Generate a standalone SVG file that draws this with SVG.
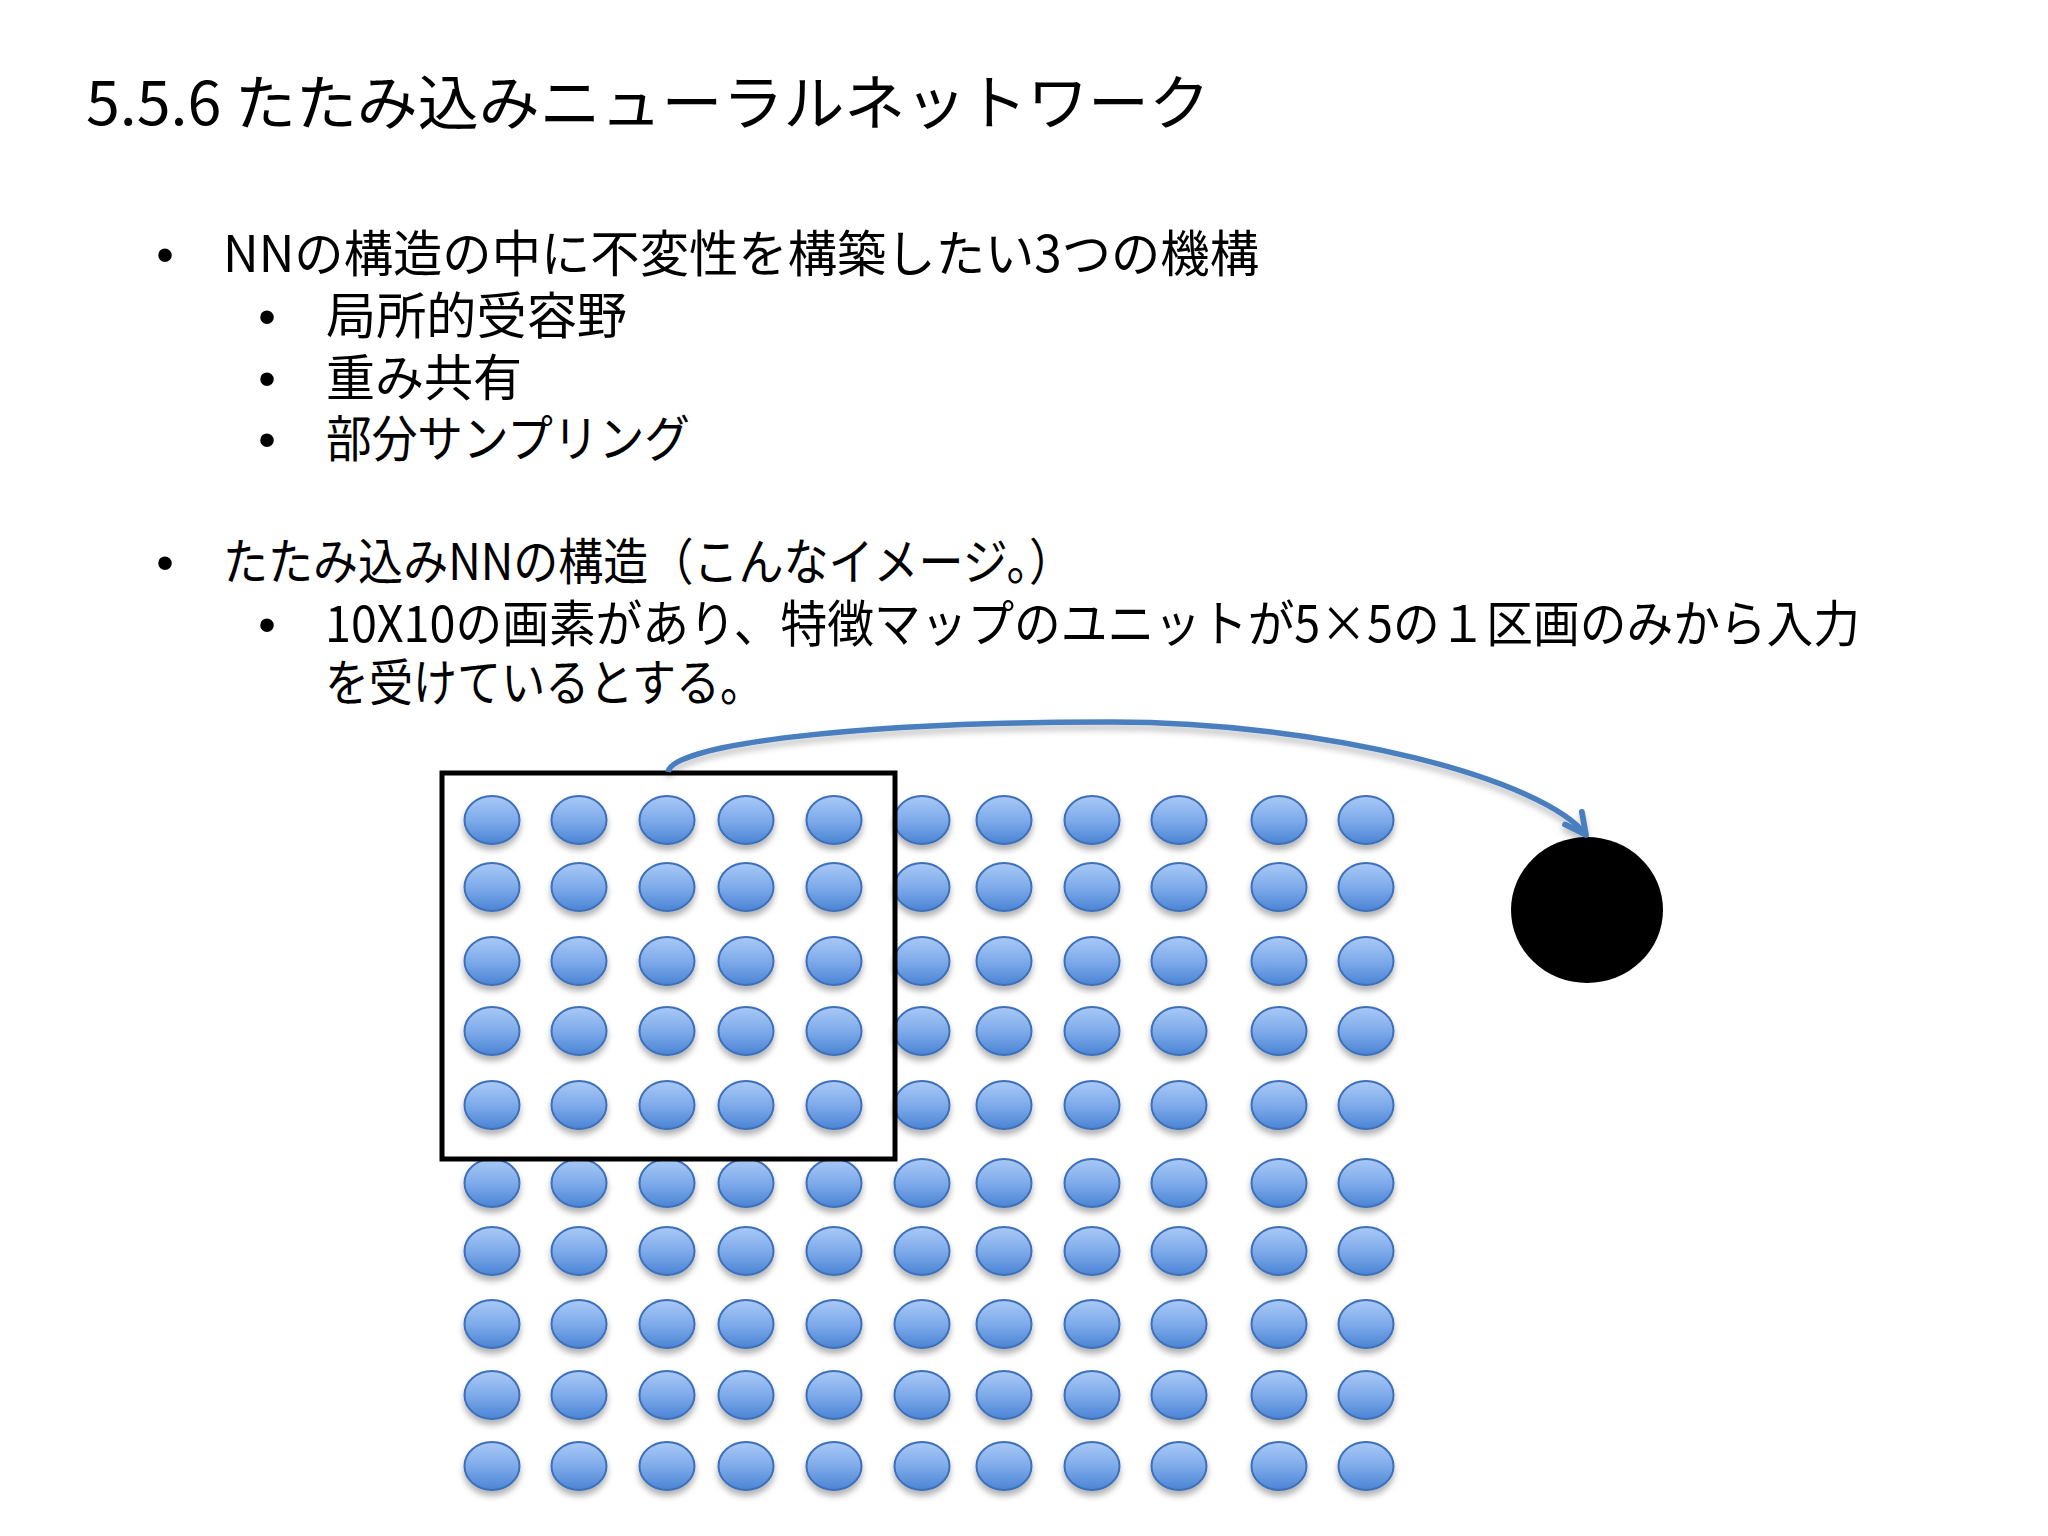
<svg xmlns="http://www.w3.org/2000/svg" xmlns:xlink="http://www.w3.org/1999/xlink" width="2048" height="1536" viewBox="0 0 2048 1536">
<style>
.t{font-family:"Noto Sans CJK JP","Noto Sans",sans-serif;fill:#000}
.title{font-size:60px}
.body{font-size:50px}
.bul{font-family:"Liberation Sans",Arial,sans-serif;font-size:50px;fill:#000}
</style>
<defs>
<linearGradient id="blue" x1="0" y1="0" x2="0" y2="1">
<stop offset="0" stop-color="#a9c9f7"/>
<stop offset="0.5" stop-color="#7fabeb"/>
<stop offset="1" stop-color="#4a84d4"/>
</linearGradient>
<filter id="sh" x="-40%" y="-40%" width="180%" height="190%">
<feDropShadow dx="0" dy="5" stdDeviation="3" flood-color="#000" flood-opacity="0.3"/>
</filter>
<filter id="lsh" x="-10%" y="-20%" width="120%" height="160%">
<feDropShadow dx="0" dy="5" stdDeviation="3" flood-color="#000" flood-opacity="0.25"/>
</filter>
<ellipse id="unit" cx="0" cy="0" rx="27.5" ry="24" fill="url(#blue)" stroke="#3e70b8" stroke-width="2" filter="url(#sh)"/>
<marker id="arr" viewBox="0 0 24 24" refX="21" refY="12" markerWidth="28" markerHeight="28" markerUnits="userSpaceOnUse" orient="auto">
<path d="M3,3 L21,12 L3,21" fill="none" stroke="#4a7ebf" stroke-width="5" stroke-linecap="round" stroke-linejoin="round"/>
</marker>
</defs>
<rect width="2048" height="1536" fill="#fff"/>

<g id="title"><text class="t title" x="86" y="125" textLength="1124" lengthAdjust="spacingAndGlyphs">5.5.6 たたみ込みニューラルネットワーク</text></g>

<g id="bullets">
<text class="bul" x="165" y="272" text-anchor="middle">•</text>
<text class="t body" x="223" y="272" textLength="1036" lengthAdjust="spacingAndGlyphs">NNの構造の中に不変性を構築したい3つの機構</text>
<text class="bul" x="267" y="334" text-anchor="middle">•</text>
<text class="t body" x="326" y="334" textLength="301" lengthAdjust="spacingAndGlyphs">局所的受容野</text>
<text class="bul" x="267" y="396" text-anchor="middle">•</text>
<text class="t body" x="326" y="396" textLength="196" lengthAdjust="spacingAndGlyphs">重み共有</text>
<text class="bul" x="267" y="457" text-anchor="middle">•</text>
<text class="t body" x="326" y="457" textLength="364" lengthAdjust="spacingAndGlyphs">部分サンプリング</text>
<text class="bul" x="165" y="580" text-anchor="middle">•</text>
<text class="t body" x="223" y="580" textLength="851" lengthAdjust="spacingAndGlyphs">たたみ込みNNの構造（こんなイメージ。）</text>
<text class="bul" x="267" y="642" text-anchor="middle">•</text>
<text class="t body" x="325" y="642" textLength="1535" lengthAdjust="spacingAndGlyphs">10X10の画素があり、特徴マップのユニットが5×5の１区画のみから入力</text>
<text class="t body" x="325" y="701" textLength="439" lengthAdjust="spacingAndGlyphs">を受けているとする。</text>
</g>

<g id="grid">
<g id="u-1-1"><use href="#unit" x="492" y="820"/></g><g id="u-1-2"><use href="#unit" x="579" y="820"/></g><g id="u-1-3"><use href="#unit" x="667" y="820"/></g><g id="u-1-4"><use href="#unit" x="746" y="820"/></g><g id="u-1-5"><use href="#unit" x="834" y="820"/></g><g id="u-1-6"><use href="#unit" x="922" y="820"/></g><g id="u-1-7"><use href="#unit" x="1004" y="820"/></g><g id="u-1-8"><use href="#unit" x="1092" y="820"/></g><g id="u-1-9"><use href="#unit" x="1179" y="820"/></g><g id="u-1-10"><use href="#unit" x="1279" y="820"/></g><g id="u-1-11"><use href="#unit" x="1366" y="820"/></g>
<g id="u-2-1"><use href="#unit" x="492" y="887"/></g><g id="u-2-2"><use href="#unit" x="579" y="887"/></g><g id="u-2-3"><use href="#unit" x="667" y="887"/></g><g id="u-2-4"><use href="#unit" x="746" y="887"/></g><g id="u-2-5"><use href="#unit" x="834" y="887"/></g><g id="u-2-6"><use href="#unit" x="922" y="887"/></g><g id="u-2-7"><use href="#unit" x="1004" y="887"/></g><g id="u-2-8"><use href="#unit" x="1092" y="887"/></g><g id="u-2-9"><use href="#unit" x="1179" y="887"/></g><g id="u-2-10"><use href="#unit" x="1279" y="887"/></g><g id="u-2-11"><use href="#unit" x="1366" y="887"/></g>
<g id="u-3-1"><use href="#unit" x="492" y="961"/></g><g id="u-3-2"><use href="#unit" x="579" y="961"/></g><g id="u-3-3"><use href="#unit" x="667" y="961"/></g><g id="u-3-4"><use href="#unit" x="746" y="961"/></g><g id="u-3-5"><use href="#unit" x="834" y="961"/></g><g id="u-3-6"><use href="#unit" x="922" y="961"/></g><g id="u-3-7"><use href="#unit" x="1004" y="961"/></g><g id="u-3-8"><use href="#unit" x="1092" y="961"/></g><g id="u-3-9"><use href="#unit" x="1179" y="961"/></g><g id="u-3-10"><use href="#unit" x="1279" y="961"/></g><g id="u-3-11"><use href="#unit" x="1366" y="961"/></g>
<g id="u-4-1"><use href="#unit" x="492" y="1031"/></g><g id="u-4-2"><use href="#unit" x="579" y="1031"/></g><g id="u-4-3"><use href="#unit" x="667" y="1031"/></g><g id="u-4-4"><use href="#unit" x="746" y="1031"/></g><g id="u-4-5"><use href="#unit" x="834" y="1031"/></g><g id="u-4-6"><use href="#unit" x="922" y="1031"/></g><g id="u-4-7"><use href="#unit" x="1004" y="1031"/></g><g id="u-4-8"><use href="#unit" x="1092" y="1031"/></g><g id="u-4-9"><use href="#unit" x="1179" y="1031"/></g><g id="u-4-10"><use href="#unit" x="1279" y="1031"/></g><g id="u-4-11"><use href="#unit" x="1366" y="1031"/></g>
<g id="u-5-1"><use href="#unit" x="492" y="1105"/></g><g id="u-5-2"><use href="#unit" x="579" y="1105"/></g><g id="u-5-3"><use href="#unit" x="667" y="1105"/></g><g id="u-5-4"><use href="#unit" x="746" y="1105"/></g><g id="u-5-5"><use href="#unit" x="834" y="1105"/></g><g id="u-5-6"><use href="#unit" x="922" y="1105"/></g><g id="u-5-7"><use href="#unit" x="1004" y="1105"/></g><g id="u-5-8"><use href="#unit" x="1092" y="1105"/></g><g id="u-5-9"><use href="#unit" x="1179" y="1105"/></g><g id="u-5-10"><use href="#unit" x="1279" y="1105"/></g><g id="u-5-11"><use href="#unit" x="1366" y="1105"/></g>
<g id="u-6-1"><use href="#unit" x="492" y="1183"/></g><g id="u-6-2"><use href="#unit" x="579" y="1183"/></g><g id="u-6-3"><use href="#unit" x="667" y="1183"/></g><g id="u-6-4"><use href="#unit" x="746" y="1183"/></g><g id="u-6-5"><use href="#unit" x="834" y="1183"/></g><g id="u-6-6"><use href="#unit" x="922" y="1183"/></g><g id="u-6-7"><use href="#unit" x="1004" y="1183"/></g><g id="u-6-8"><use href="#unit" x="1092" y="1183"/></g><g id="u-6-9"><use href="#unit" x="1179" y="1183"/></g><g id="u-6-10"><use href="#unit" x="1279" y="1183"/></g><g id="u-6-11"><use href="#unit" x="1366" y="1183"/></g>
<g id="u-7-1"><use href="#unit" x="492" y="1251"/></g><g id="u-7-2"><use href="#unit" x="579" y="1251"/></g><g id="u-7-3"><use href="#unit" x="667" y="1251"/></g><g id="u-7-4"><use href="#unit" x="746" y="1251"/></g><g id="u-7-5"><use href="#unit" x="834" y="1251"/></g><g id="u-7-6"><use href="#unit" x="922" y="1251"/></g><g id="u-7-7"><use href="#unit" x="1004" y="1251"/></g><g id="u-7-8"><use href="#unit" x="1092" y="1251"/></g><g id="u-7-9"><use href="#unit" x="1179" y="1251"/></g><g id="u-7-10"><use href="#unit" x="1279" y="1251"/></g><g id="u-7-11"><use href="#unit" x="1366" y="1251"/></g>
<g id="u-8-1"><use href="#unit" x="492" y="1324"/></g><g id="u-8-2"><use href="#unit" x="579" y="1324"/></g><g id="u-8-3"><use href="#unit" x="667" y="1324"/></g><g id="u-8-4"><use href="#unit" x="746" y="1324"/></g><g id="u-8-5"><use href="#unit" x="834" y="1324"/></g><g id="u-8-6"><use href="#unit" x="922" y="1324"/></g><g id="u-8-7"><use href="#unit" x="1004" y="1324"/></g><g id="u-8-8"><use href="#unit" x="1092" y="1324"/></g><g id="u-8-9"><use href="#unit" x="1179" y="1324"/></g><g id="u-8-10"><use href="#unit" x="1279" y="1324"/></g><g id="u-8-11"><use href="#unit" x="1366" y="1324"/></g>
<g id="u-9-1"><use href="#unit" x="492" y="1395"/></g><g id="u-9-2"><use href="#unit" x="579" y="1395"/></g><g id="u-9-3"><use href="#unit" x="667" y="1395"/></g><g id="u-9-4"><use href="#unit" x="746" y="1395"/></g><g id="u-9-5"><use href="#unit" x="834" y="1395"/></g><g id="u-9-6"><use href="#unit" x="922" y="1395"/></g><g id="u-9-7"><use href="#unit" x="1004" y="1395"/></g><g id="u-9-8"><use href="#unit" x="1092" y="1395"/></g><g id="u-9-9"><use href="#unit" x="1179" y="1395"/></g><g id="u-9-10"><use href="#unit" x="1279" y="1395"/></g><g id="u-9-11"><use href="#unit" x="1366" y="1395"/></g>
<g id="u-10-1"><use href="#unit" x="492" y="1466"/></g><g id="u-10-2"><use href="#unit" x="579" y="1466"/></g><g id="u-10-3"><use href="#unit" x="667" y="1466"/></g><g id="u-10-4"><use href="#unit" x="746" y="1466"/></g><g id="u-10-5"><use href="#unit" x="834" y="1466"/></g><g id="u-10-6"><use href="#unit" x="922" y="1466"/></g><g id="u-10-7"><use href="#unit" x="1004" y="1466"/></g><g id="u-10-8"><use href="#unit" x="1092" y="1466"/></g><g id="u-10-9"><use href="#unit" x="1179" y="1466"/></g><g id="u-10-10"><use href="#unit" x="1279" y="1466"/></g><g id="u-10-11"><use href="#unit" x="1366" y="1466"/></g>
</g>

<g id="window"><rect x="442" y="773" width="453" height="386" fill="none" stroke="#000" stroke-width="5"/></g>

<g id="feature-unit"><ellipse cx="1587" cy="910" rx="76" ry="73" fill="#000"/></g>

<g id="connectors">
<path d="M668,772 C672,745 850,722 1110,722 C1330,722 1545,780 1586,835" fill="none" stroke="#4a7ebf" stroke-width="5.5" filter="url(#lsh)" marker-end="url(#arr)"/>
</g>
</svg>
